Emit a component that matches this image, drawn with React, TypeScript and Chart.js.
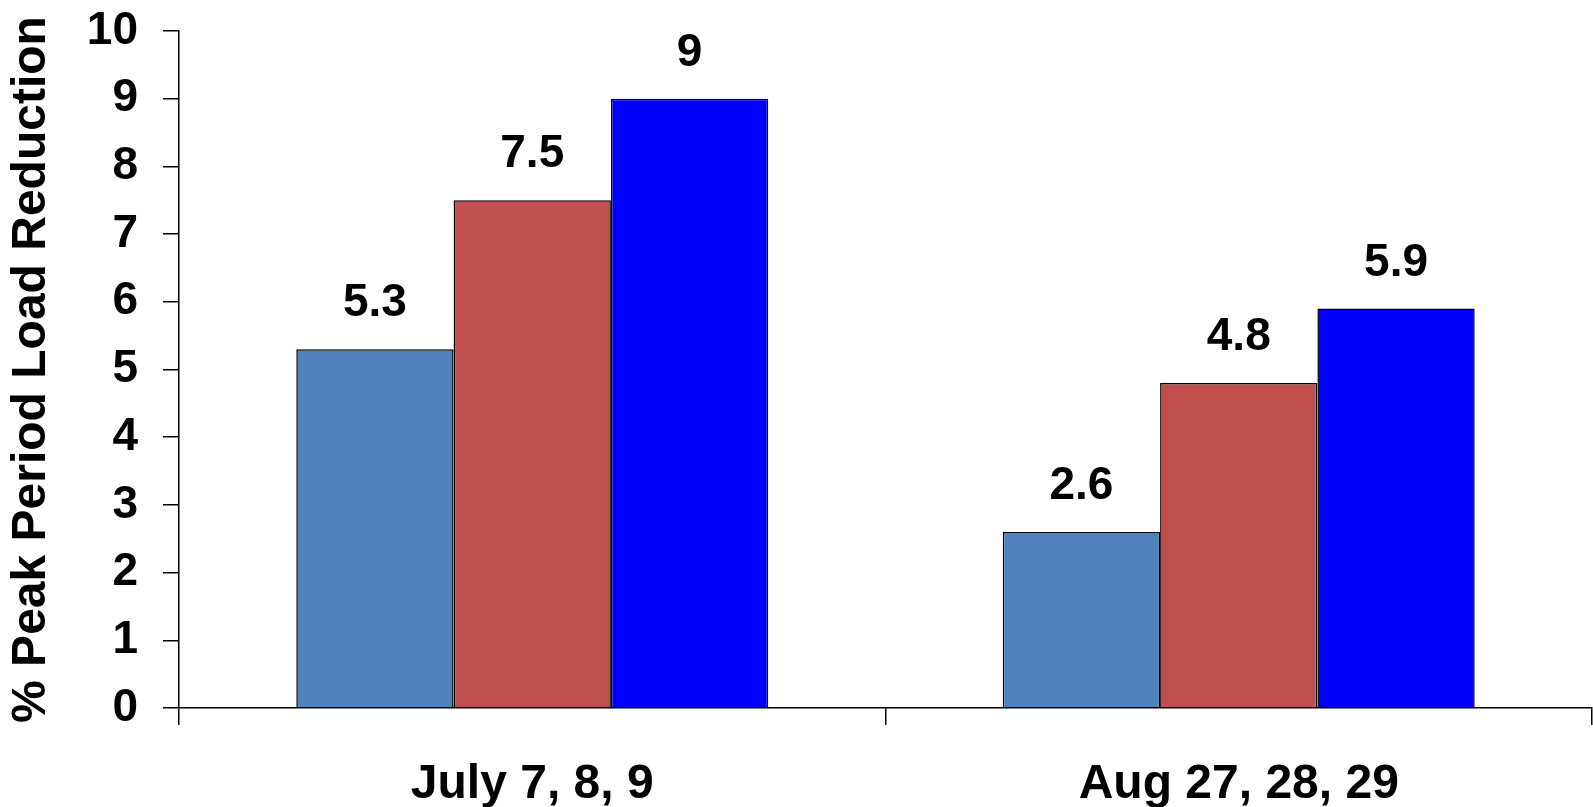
import React, { useEffect, useRef } from "react";
import { Chart, registerables } from "chart.js";

Chart.register(...registerables);

const categories = ["July 7, 8, 9", "Aug 27, 28, 29"];
const series1 = [5.3, 2.6];
const series2 = [7.5, 4.8];
const series3 = [9, 5.9];
const seriesNames = ["Series 1", "Series 2", "Series 3"];
const seriesColors = ["#4F81BD", "#C0504D", "#0000FF"];
const yTicks = [0, 1, 2, 3, 4, 5, 6, 7, 8, 9, 10];
const yTitle = "% Peak Period Load Reduction";

const FONT = "'Liberation Sans', Arial, Helvetica, sans-serif";

const valueLabels = {
  id: "valueLabels",
  afterDatasetsDraw(chart: any) {
    const ctx = chart.ctx;
    ctx.save();
    ctx.font = `bold 46px ${FONT}`;
    ctx.fillStyle = "#000";
    ctx.textAlign = "center";
    ctx.textBaseline = "alphabetic";
    chart.data.datasets.forEach((ds: any, di: number) => {
      const meta = chart.getDatasetMeta(di);
      meta.data.forEach((el: any, i: number) => {
        ctx.fillText(String(ds.data[i]), el.x, el.y - 33);
      });
    });
    ctx.restore();
  },
};

export default function App() {
  const ref = useRef<HTMLCanvasElement | null>(null);
  useEffect(() => {
    if (!ref.current) return;
    const data = [series1, series2, series3];
    const chart = new Chart(ref.current, {
      type: "bar",
      data: {
        labels: categories,
        datasets: data.map((d, i) => ({
          label: seriesNames[i],
          data: d,
          backgroundColor: seriesColors[i],
          borderColor: "#000",
          borderWidth: 1.5,
          categoryPercentage: 0.668,
          barPercentage: 1,
        })),
      },
      options: {
        animation: false,
        responsive: true,
        maintainAspectRatio: false,
        layout: { padding: { top: 31, right: 1, left: 0, bottom: 0 } },
        plugins: {
          legend: { display: false },
          tooltip: { enabled: false },
        },
        scales: {
          x: {
            offset: true,
            grid: {
              offset: true,
              drawOnChartArea: false,
              drawTicks: true,
              tickLength: 17,
              color: "#000",
              lineWidth: 1.5,
            },
            border: { display: true, color: "#000", width: 1.5 },
            ticks: {
              color: "#000",
              font: { family: FONT, size: 48, weight: "bold" },
              padding: 31,
              maxRotation: 0,
            },
            afterFit: (scale: any) => {
              scale.height = 99;
              scale.paddingLeft = 0;
              scale.paddingRight = 0;
            },
          },
          y: {
            min: 0,
            max: 10,
            afterBuildTicks: (scale: any) => {
              scale.ticks = yTicks.map((v) => ({ value: v }));
            },
            grid: {
              drawOnChartArea: false,
              drawTicks: true,
              tickLength: 16,
              color: "#000",
              lineWidth: 1.5,
            },
            border: { display: true, color: "#000", width: 1.5 },
            ticks: {
              color: "#000",
              font: { family: FONT, size: 46, weight: "bold" },
              padding: 25,
            },
            title: {
              display: true,
              text: yTitle,
              color: "#000",
              font: { family: FONT, size: 48, weight: "bold" },
              padding: { top: 3, bottom: 0 },
            },
            afterFit: (scale: any) => {
              scale.width = 179;
              scale.paddingTop = 0;
              scale.paddingBottom = 0;
            },
          },
        },
      },
      plugins: [valueLabels],
    });
    return () => chart.destroy();
  }, []);
  return (
    <div style={{ position: "fixed", left: 0, top: 0, width: 1593, height: 807, background: "#fff" }}>
      <canvas ref={ref} />
    </div>
  );
}
